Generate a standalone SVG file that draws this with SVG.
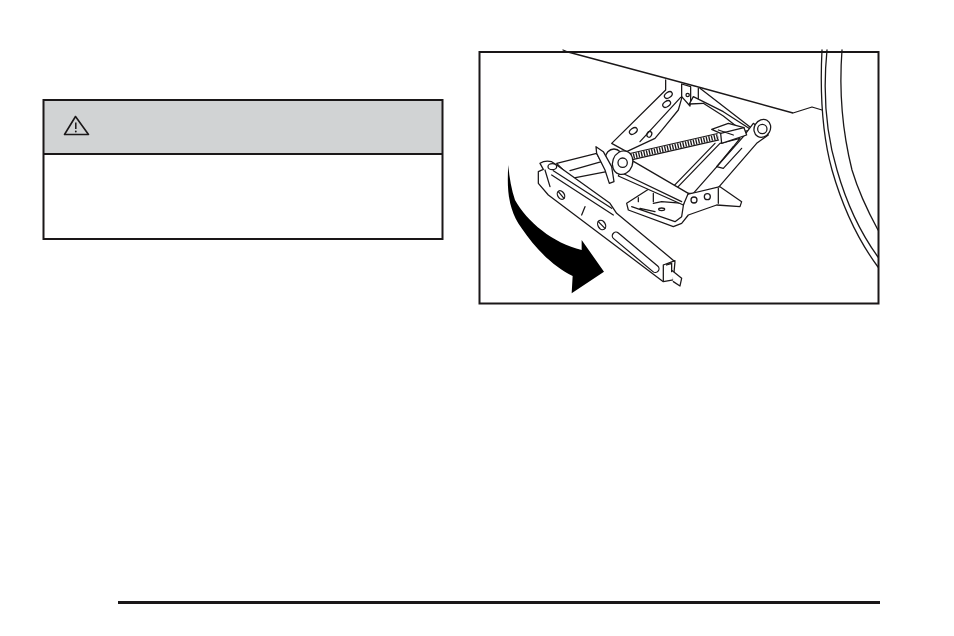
<svg xmlns="http://www.w3.org/2000/svg" width="954" height="636" viewBox="0 0 954 636">
<style>
.l{fill:none;stroke:#1a1718;stroke-width:1.3;stroke-linejoin:round;stroke-linecap:round}
.s{fill:none;stroke:#1a1718;stroke-width:3.8;stroke-linejoin:round;stroke-linecap:round}
.f{fill:#fff;stroke:#1a1718;stroke-width:3.8;stroke-linejoin:round;stroke-linecap:round}
</style>
<rect width="954" height="636" fill="#fff"/>
<g id="warning-box">
<rect x="43.500" y="100" width="399" height="54" fill="#d1d3d4"/>
<rect x="43.500" y="100" width="399" height="139" fill="none" stroke="#1a1718" stroke-width="2"/>
<line x1="43" y1="154" x2="443" y2="154" stroke="#1a1718" stroke-width="2"/>
<g id="warning-icon">
<path d="M75.500 116.500L64.500 134.500H88.500Z" fill="none" stroke="#1a1718" stroke-width="1.600" stroke-linejoin="round"/>
<path d="M75.800 122.500V129" stroke="#1a1718" stroke-width="1.500"/>
<circle cx="75.800" cy="131.500" r=".9" fill="#1a1718"/>
</g>
</g>
<g id="figure">
<path class="l" d="M563 50L568 52L665 78L702 88L793 113L812 107L822 110"/>
<path class="l" d="M822 50C820 90 821 130 832 170C842 205 858 240 878 267"/>
<path class="l" d="M827 50C823 90 825 130 837 170C847 205 862 235 878 257"/>
<path class="l" d="M842 50C839 90 842 130 852 170C858 190 866 208 878 230"/>
<!-- scissor arms and screw -->
<g transform="translate(600 80) scale(.3333)">
<path class="f" d="M197 0V30L35 190L80 215L165 175L190 145L235 90L245 55V12L272 20V60L295 55V25"/>
<path class="s" d="M245 50L270 78L272 62M242 52L120 185"/>
<path class="f" d="M280 50L370 95L455 150L430 155L370 108L310 70L268 72Z"/>
<path class="s" d="M300 25L455 145"/>
<circle class="s" cx="263" cy="45" r="5"/>
<ellipse class="s" cx="205" cy="45" rx="13" ry="8" transform="rotate(-35 205 45)"/>
<ellipse class="s" cx="200" cy="72" rx="13" ry="8" transform="rotate(-35 200 72)"/>
<ellipse class="s" cx="100" cy="153" rx="13" ry="8" transform="rotate(-35 100 153)"/>
<ellipse class="s" cx="148" cy="163" rx="7" ry="9" transform="rotate(25 148 163)"/>
<path class="f" d="M360 190L215 340H290L420 175Z"/>
<path class="f" d="M460 130L430 170L280 340H340L470 190L505 165Z"/>
<path class="s" d="M345 190L205 335M400 200L350 260L370 265L425 205"/>
<path d="M92 230L355 170" stroke="#1a1718" stroke-width="23" fill="none"/>
<path d="M92 230L355 170" stroke="#fff" stroke-width="16" fill="none"/>
<path d="M92 230L355 170" stroke="#1a1718" stroke-width="16" stroke-dasharray="4 4" fill="none"/>
<path class="f" d="M335 148L385 130L432 143L440 165L365 190L362 160Z"/>
<path class="s" d="M362 160L432 143M355 150L400 165"/>
<ellipse class="f" cx="487" cy="145" rx="24" ry="28" transform="rotate(30 487 145)"/>
<circle class="f" cx="487" cy="147" r="14"/>
</g>
<!-- base bracket -->
<g transform="translate(620 160) scale(.3333)">
<path class="f" d="M20 130L90 85L190 130L195 105L300 80L365 125L360 140L290 135L205 165L185 190L160 200L25 150Z"/>
<path class="s" d="M35 140L165 185L185 170L195 105M55 113V125M100 100V125M60 145L105 155M100 130L125 125L190 130M295 85V130"/>
<ellipse class="s" cx="125" cy="148" rx="9" ry="4"/>
<circle class="s" cx="222" cy="120" r="9"/><circle class="s" cx="262" cy="110" r="9"/>
</g>
<!-- handle, tube, arrow -->
<g transform="translate(490 150) scale(.3333)">
<path class="f" d="M415 25L595 130L580 165L385 78Z"/>
<path class="s" d="M390 66L575 155"/>
<path class="f" d="M200 40L320 10L350 65L245 85Z"/>
<path class="s" d="M240 62L345 32"/>
<ellipse class="f" cx="372" cy="25" rx="26" ry="28"/>
<path class="f" d="M318 -10L340 5L365 50L372 95L358 100L345 60L320 10Z"/>
<ellipse class="f" cx="398" cy="38" rx="30" ry="36" transform="rotate(20 398 38)"/>
<circle class="f" cx="398" cy="38" r="14"/>
<path class="f" d="M150 40Q165 30 185 35L200 45L360 160L380 190L555 335L550 390L520 395L175 135L145 100V65L160 58Z"/>
<path class="f" d="M547 362L575 385L570 408L550 395"/>
<path class="s" d="M520 345L555 332M520 345V393M530 345L545 340V365M185 75L370 195M190 62L365 175"/>
<ellipse class="s" cx="187" cy="50" rx="13" ry="9"/>
<path class="s" d="M165 60L180 110M285 170L275 195"/>
<ellipse class="s" cx="213" cy="135" rx="10" ry="14" transform="rotate(-30 213 135)"/>
<ellipse class="s" cx="335" cy="225" rx="11" ry="15" transform="rotate(-30 335 225)"/>
<path class="s" d="M205 125L222 145M325 215L345 235"/>
<rect class="s" x="349" y="296" width="176" height="22" rx="11" transform="rotate(40 437 307)"/>
<path fill="#000" d="M55 45C50 120 55 180 95 235C135 295 190 350 248 378L245 430L342 365L275 270L275 300C190 280 110 215 75 150C65 120 58 85 55 45Z"/>
</g>
<rect x="479.500" y="52" width="399" height="251.500" fill="none" stroke="#1a1718" stroke-width="2"/>
</g>
<rect x="118" y="601" width="762" height="3" fill="#1a1718"/>
</svg>
